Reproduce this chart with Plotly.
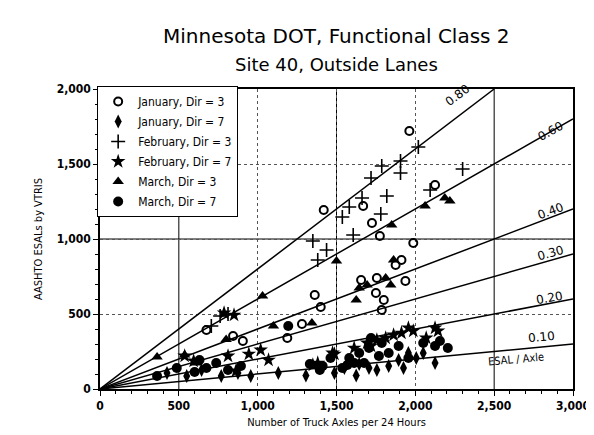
import math
import plotly.graph_objects as go

# ---- data ----
jan3_x = [675, 844, 906, 1188, 1281, 1400, 1362, 1419, 1669, 1725, 1775, 1962, 2125, 1987, 1912, 1875, 1937, 1656, 1756, 1750, 1800, 1787]
jan3_y = [393, 353, 320, 340, 433, 547, 627, 1193, 1220, 1107, 1020, 1720, 1360, 973, 860, 827, 720, 727, 740, 640, 593, 527]

jan7_x = [425, 550, 644, 769, 875, 956, 1131, 1306, 1487, 1550, 1625, 1644, 1706, 1756, 1831, 1894, 1925, 1956, 2006, 2050, 2125]
jan7_y = [107, 87, 127, 87, 107, 87, 107, 90, 107, 140, 90, 167, 140, 127, 153, 193, 140, 240, 207, 240, 173]

feb3_x = [706, 762, 812, 1350, 1381, 1437, 1537, 1581, 1606, 1662, 1719, 1781, 1787, 1819, 1906, 1906, 2019, 2094, 2300]
feb3_y = [420, 487, 500, 987, 860, 927, 1147, 1213, 1027, 1273, 1407, 1167, 1487, 1287, 1520, 1440, 1613, 1327, 1467]

feb7_x = [537, 594, 787, 850, 812, 862, 944, 1019, 1069, 1350, 1381, 1475, 1487, 1612, 1694, 1719, 1756, 1812, 1862, 1912, 1956, 1987, 2069, 2125, 2144]
feb7_y = [220, 187, 507, 493, 220, 120, 233, 260, 193, 160, 173, 240, 233, 273, 307, 287, 327, 340, 360, 373, 407, 387, 340, 407, 387]

mar3_x = [362, 537, 612, 800, 1031, 1100, 1344, 1500, 1625, 1644, 1694, 1812, 1844, 1862, 1850, 2062, 2187, 2219]
mar3_y = [213, 227, 173, 330, 620, 420, 440, 853, 593, 673, 693, 740, 693, 860, 1093, 1220, 1273, 1253]

mar7_x = [362, 487, 600, 631, 675, 737, 812, 894, 1194, 1331, 1394, 1412, 1462, 1537, 1569, 1581, 1612, 1644, 1675, 1706, 1719, 1769, 1787, 1831, 1894, 1956, 2050, 2125, 2156, 2206]
mar7_y = [87, 140, 113, 193, 140, 173, 127, 153, 420, 167, 127, 153, 207, 140, 160, 207, 173, 240, 173, 273, 340, 220, 307, 240, 287, 207, 307, 287, 320, 273]

ratio_values = [0.80, 0.60, 0.40, 0.30, 0.20, 0.10]
ratio_labels = ["0.80", "0.60", "0.40", "0.30", "0.20", "0.10"]
ratio_end_x = [2500, 3000, 3000, 3000, 3000, 3000]

x_ticks = [0, 500, 1000, 1500, 2000, 2500, 3000]
x_tick_labels = ["0", "500", "1,000", "1,500", "2,000", "2,500", "3,000"]
y_ticks = [0, 500, 1000, 1500, 2000]
y_tick_labels = ["0", "500", "1,000", "1,500", "2,000"]

FONT = "DejaVu Sans"
TICKFONT = "DejaVu Sans Condensed, DejaVu Sans"
fig = go.Figure()

# reference ratio lines
for r, xe in zip(ratio_values, ratio_end_x):
    fig.add_trace(go.Scatter(x=[0, xe], y=[0, r * xe], mode="lines",
                             line=dict(color="black", width=1.5),
                             showlegend=False, hoverinfo="skip"))

series = [
    ("January, Dir = 3", jan3_x, jan3_y, dict(symbol="circle-open", size=8, line=dict(width=2, color="black"))),
    ("January, Dir = 7", jan7_x, jan7_y, dict(symbol="diamond-tall", size=10)),
    ("February, Dir = 3", feb3_x, feb3_y, dict(symbol="cross-thin", size=10, line=dict(width=1.6, color="black"))),
    ("February, Dir = 7", feb7_x, feb7_y, dict(symbol="star", size=11)),
    ("March, Dir = 3", mar3_x, mar3_y, dict(symbol="triangle-up", size=10)),
    ("March, Dir = 7", mar7_x, mar7_y, dict(symbol="circle", size=10)),
]
for name, xs, ys, mk in series:
    mk = dict(mk)
    mk["color"] = "black"
    fig.add_trace(go.Scatter(x=xs, y=ys, mode="markers", name=name, marker=mk,
                             legendgroup=name))

# ratio labels
label_pos = [(2270, 1960), (2860, 1720), (2860, 1190), (2860, 910), (2850, 610), (2800, 345)]
for (lx, ly), txt, r in zip(label_pos, ratio_labels, ratio_values):
    ang = math.degrees(math.atan(r * (300 / 2000) / (484 / 3000)))
    fig.add_annotation(x=lx, y=ly, text=txt, showarrow=False, textangle=-ang,
                       font=dict(family=FONT, size=12, color="black"))
fig.add_annotation(x=2640, y=195, text="ESAL / Axle", showarrow=False, textangle=-5,
                   font=dict(family=TICKFONT, size=11, color="black"))

# titles
fig.add_annotation(x=0.5, y=1.177, xref="paper", yref="paper", xanchor="center", yanchor="middle",
                   text="Minnesota DOT, Functional Class 2", showarrow=False,
                   font=dict(family=FONT, size=20, color="black"))
fig.add_annotation(x=0.5, y=1.08, xref="paper", yref="paper", xanchor="center", yanchor="middle",
                   text="Site 40, Outside Lanes", showarrow=False,
                   font=dict(family=FONT, size=18, color="black"))

# solid emphasised grid lines
for xv in [500, 1500, 2500]:
    fig.add_shape(type="line", x0=xv, x1=xv, y0=0, y1=2000, xref="x", yref="y",
                  line=dict(color="black", width=1), layer="below")
fig.add_shape(type="line", x0=0, x1=3000, y0=1000, y1=1000, xref="x", yref="y",
              line=dict(color="black", width=1), layer="below")

fig.update_layout(
    width=594, height=435,
    margin=dict(l=92, r=19, t=81, b=54),
    paper_bgcolor="white", plot_bgcolor="white",
    font=dict(family=FONT, color="black"),
    legend=dict(x=-0.006, y=1.01, xanchor="left", yanchor="top",
                bgcolor="white", bordercolor="black", borderwidth=1,
                font=dict(family=TICKFONT, size=12, color="black"),
                itemwidth=30, tracegroupgap=1),
    showlegend=True,
)
fig.update_xaxes(range=[0, 3000], tickvals=x_ticks, ticktext=x_tick_labels,
                 showline=True, linecolor="black", linewidth=1.5, mirror=True,
                 showgrid=True, gridcolor="#555", griddash="dot", gridwidth=1,
                 ticks="outside", ticklen=5, tickcolor="black",
                 minor=dict(dtick=100, ticks="outside", ticklen=3, tickcolor="black", showgrid=False),
                 zeroline=False,
                 tickfont=dict(family=TICKFONT, size=12, color="black", weight="bold"),
                 title=dict(text="Number of Truck Axles per 24 Hours", standoff=6,
                            font=dict(family=TICKFONT, size=11, color="black")))
fig.update_yaxes(range=[0, 2000], tickvals=y_ticks, ticktext=y_tick_labels,
                 showline=True, linecolor="black", linewidth=1.5, mirror=True,
                 showgrid=True, gridcolor="#555", griddash="dot", gridwidth=1,
                 ticks="outside", ticklen=5, tickcolor="black",
                 minor=dict(dtick=100, ticks="outside", ticklen=3, tickcolor="black", showgrid=False),
                 zeroline=False,
                 tickfont=dict(family=TICKFONT, size=12, color="black", weight="bold"),
                 title=dict(text="AASHTO ESALs by VTRIS", standoff=12,
                            font=dict(family=TICKFONT, size=11, color="black")))

fig.write_html("out.html")
